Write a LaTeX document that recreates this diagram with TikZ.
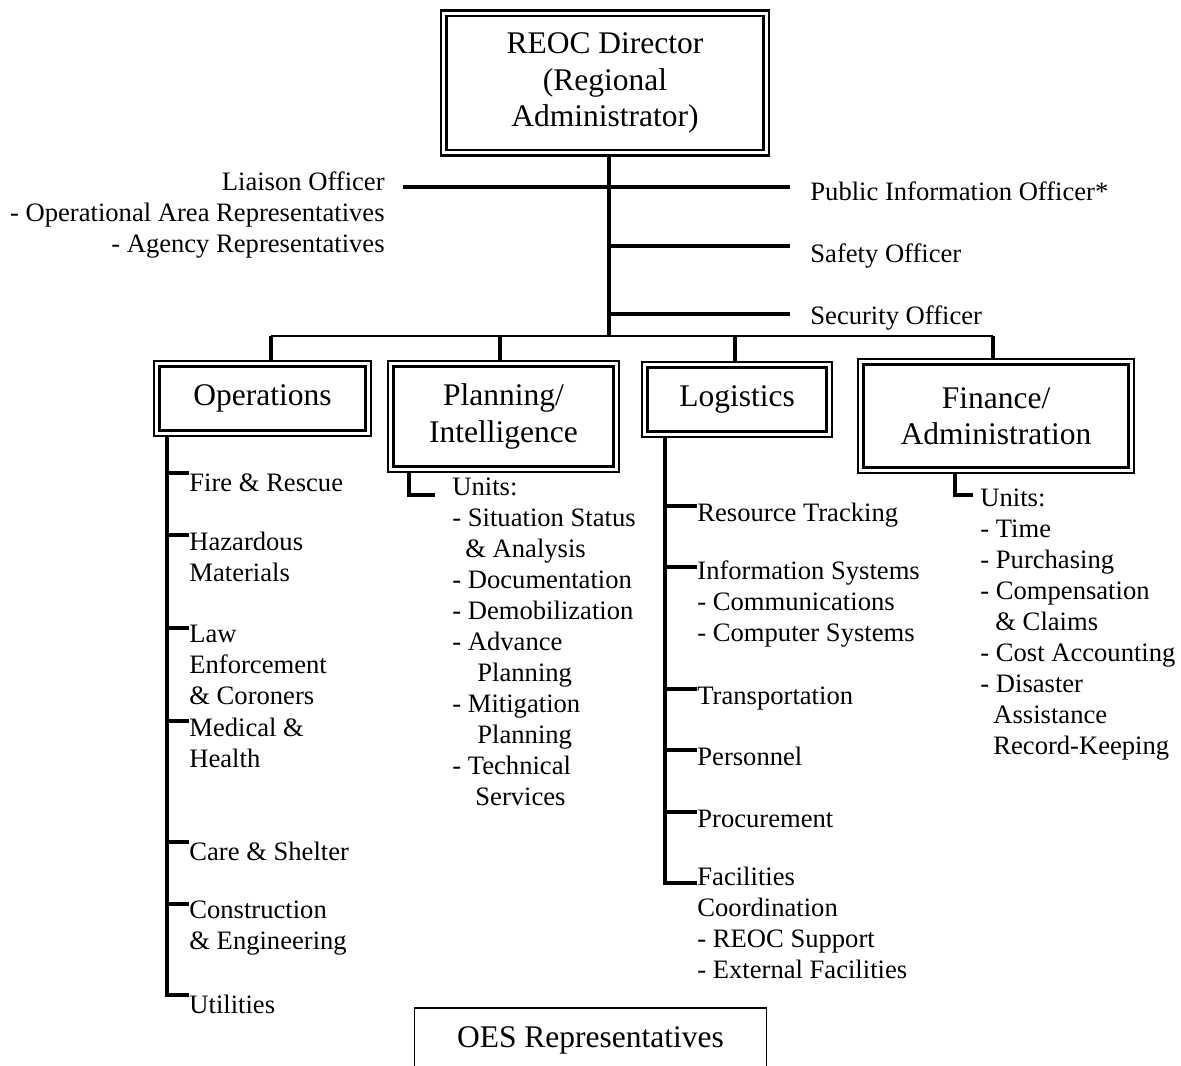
\documentclass[tikz,border=0pt]{standalone}
\usepackage{fontspec}
\setmainfont{Liberation Serif}
\newcommand{\boxfont}{\fontsize{15.75}{18.25}\selectfont}
\newcommand{\itemfont}{\fontsize{13.3}{15.5}\selectfont}

\begin{document}
\begin{tikzpicture}[
  x=0.5pt, y=-0.5pt,
  dbox/.style={draw, double, line width=1.1pt, double distance=1.6pt, outer sep=1.9pt, align=center, font=\boxfont, inner sep=2pt},
  sbox/.style={draw, line width=0.8pt, align=center, font=\boxfont},
  lbl/.style={inner sep=0pt, align=left, font=\itemfont, execute at begin node=\strut},
  bar/.style={line width=1.7pt},
  bus/.style={line width=0.85pt}
]
\useasboundingbox (0,0) rectangle (1181,1065);
\clip (0,0) rectangle (1181,1065);

% section boxes
\node[dbox, minimum width=161.2pt, minimum height=69.7pt] (director) at (605,83) {REOC Director\\(Regional\\Administrator)};
\node[dbox, minimum width=105.7pt, minimum height=34.7pt] (ops) at (262.5,398.5) {Operations};
\node[dbox, minimum width=112.7pt, minimum height=52.7pt] (plan) at (503.5,416.5) {Planning/\\Intelligence};
\node[dbox, minimum width=92.2pt, minimum height=34.7pt] (log) at (737,399.5) {Logistics};
\node[dbox, minimum width=135.2pt, minimum height=54.2pt] (fin) at (996,416) {Finance/\\Administration};
\node[sbox, minimum width=176pt, minimum height=32pt] (oes) at (590.5,1040) {OES Representatives};

% command staff
\coordinate (hub) at (609,336);
\coordinate (liaisonend) at (403,187);
\coordinate (pioend) at (790,187);
\coordinate (safetyend) at (790,246);
\coordinate (securityend) at (790,314);
\node[lbl, align=right, anchor=north east, xshift=-9pt, yshift=7.85pt] (liaison) at (liaisonend) {Liaison Officer\\- Operational Area Representatives\\- Agency Representatives};
\node[lbl, anchor=base west, xshift=10pt, yshift=-6.5pt] (pio) at (pioend) {Public Information Officer*};
\node[lbl, anchor=base west, xshift=10pt, yshift=-8pt] (safety) at (safetyend) {Safety Officer};
\node[lbl, anchor=base west, xshift=10pt, yshift=-5pt] (security) at (securityend) {Security Officer};
\draw[bar] (hub |- director.south) -- (hub);
\draw[bar] (liaisonend) -- (pioend);
\draw[bar] (hub |- safetyend) -- (safetyend);
\draw[bar] (hub |- securityend) -- (securityend);

% bus to the sections
\coordinate (opsjoin) at (271,336);
\coordinate (planjoin) at (500,336);
\coordinate (logjoin) at (735,336);
\coordinate (finjoin) at (993,336);
\draw[bus] (opsjoin) -- (finjoin);
\foreach \b in {ops,plan,log,fin}
  \draw[bar] (\b join) -- (\b join |- \b.north);

% operations
\coordinate (opsspine) at ([xshift=7pt]ops.south west);
\node[lbl, anchor=north west] (fire) at (189,469.3) {Fire \& Rescue};
\node[lbl, anchor=north west] (hazmat) at (189,531.3) {Hazardous\\Materials};
\node[lbl, anchor=north west] (law) at (189,624.3) {Law\\Enforcement\\\& Coroners};
\node[lbl, anchor=north west] (medical) at (189,717.3) {Medical \&\\Health};
\node[lbl, anchor=north west] (care) at (189,838.3) {Care \& Shelter};
\node[lbl, anchor=north west] (constr) at (189,900.3) {Construction\\\& Engineering};
\node[lbl, anchor=north west] (util) at (189,991.3) {Utilities};
\foreach \n in {fire,hazmat,law,medical,care,constr,util}
  \draw[bar] (opsspine) |- ([yshift=-1.85pt]\n.north west);

% planning / intelligence
\coordinate (planspine) at ([xshift=11pt]plan.south west);
\node[lbl, anchor=north west] (planunits) at (452,477.3) {Units:\\- Situation Status\\\hspace{6.5pt}\& Analysis\\- Documentation\\- Demobilization\\- Advance\\\hspace{12.5pt}Planning\\- Mitigation\\\hspace{12.5pt}Planning\\- Technical\\\hspace{11.5pt}Services};
\draw[bar] (planspine) |- ([xshift=-8.5pt,yshift=-8.85pt]planunits.north west);

% logistics
\coordinate (logspine) at ([xshift=12pt]log.south west);
\node[lbl, anchor=north west] (track) at (697,499.3) {Resource Tracking};
\node[lbl, anchor=north west] (infosys) at (697,560.3) {Information Systems\\- Communications\\- Computer Systems};
\node[lbl, anchor=north west] (transp) at (697,682.3) {Transportation};
\node[lbl, anchor=north west] (personnel) at (697,743.3) {Personnel};
\node[lbl, anchor=north west] (procure) at (697,805.3) {Procurement};
\node[lbl, anchor=north west] (facil) at (697,866.3) {Facilities\\Coordination\\- REOC Support\\- External Facilities};
\foreach \n in {track,infosys,transp,personnel,procure}
  \draw[bar] (logspine) |- ([yshift=-3.35pt]\n.north west);
\draw[bar] (logspine) |- ([yshift=-8.35pt]facil.north west);

% finance / administration
\coordinate (finspine) at ([xshift=49pt]fin.south west);
\node[lbl, anchor=north west] (finunits) at (980,488.3) {Units:\\- Time\\- Purchasing\\- Compensation\\\hspace{7.5pt}\& Claims\\- Cost Accounting\\- Disaster\\\hspace{6.5pt}Assistance\\\hspace{6.5pt}Record-Keeping};
\draw[bar] (finspine) |- ([xshift=-3.5pt,yshift=-3.35pt]finunits.north west);
\end{tikzpicture}
\end{document}
